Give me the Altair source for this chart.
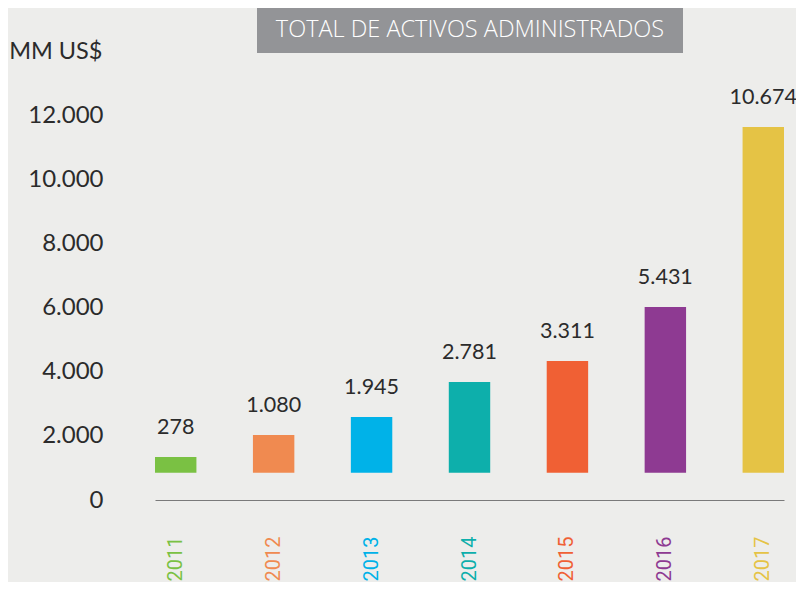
import altair as alt
import pandas as pd

# ---- data ----
anios = ["2011", "2012", "2013", "2014", "2015", "2016", "2017"]
valores = [278, 1080, 1945, 2781, 3311, 5431, 10674]
# bar extents as drawn in the picture, in axis units (MM US$)
barra_inicio = [850, 850, 850, 850, 850, 850, 850]
barra_fin = [1340, 2026, 2587, 3678, 4332, 6016, 11626]
colores = ["#7AC143", "#F08A50", "#00B2E8", "#0DAFAB", "#F06034", "#8E3A92", "#E5C345"]
ticks_y = [0, 2000, 4000, 6000, 8000, 10000, 12000]
titulo = "TOTAL DE ACTIVOS ADMINISTRADOS"
unidad = "MM US$"

df = pd.DataFrame({
    "anio": anios,
    "valor": valores,
    "inicio": barra_inicio,
    "fin": barra_fin,
    "etiqueta": [f"{v:,}".replace(",", ".") for v in valores],
})

NUM_FONT = "Lato"
label_color = {
    "condition": [{"test": f"datum.value === '{a}'", "value": c}
                  for a, c in zip(anios[:-1], colores[:-1])],
    "value": colores[-1],
}

x_enc = alt.X(
    "anio:N", sort=anios,
    scale=alt.Scale(paddingInner=0.577, paddingOuter=0),
    axis=alt.Axis(
        title=None, labelAngle=270, ticks=False, labelPadding=36,
        labelFontSize=20, labelFont="Roboto", labelFontWeight=400,
        labelColor=label_color, domainColor="#7a7a7a", domainWidth=1.2,
        grid=False,
    ),
)

y_scale = alt.Scale(domain=[0, 12000], nice=False)
y_axis = alt.Axis(
    values=ticks_y, grid=False, domain=False, ticks=False,
    labelPadding=52, labelFontSize=24, labelFont=NUM_FONT, labelColor="#2b2b2b",
    labelExpr="replace(format(datum.value, ','), ',', '.')",
    title=unidad, titleAngle=0, titleX=-53, titleY=-57, titleAlign="right",
    titleBaseline="alphabetic", titleFontSize=23.5, titleFont=NUM_FONT,
    titleFontWeight="normal", titleColor="#2b2b2b",
)

base = alt.Chart(df)

bars = base.mark_bar().encode(
    x=x_enc,
    y=alt.Y("inicio:Q", scale=y_scale, axis=y_axis),
    y2="fin:Q",
    color=alt.Color("anio:N", scale=alt.Scale(domain=anios, range=colores), legend=None),
)

labels = base.mark_text(dy=-29, fontSize=21.5, font=NUM_FONT, color="#2b2b2b", baseline="middle").encode(
    x=alt.X("anio:N", sort=anios),
    y=alt.Y("fin:Q"),
    text="etiqueta:N",
)

box = alt.Chart(alt.Data(values=[{}])).mark_rect(color="#939497").encode(
    x=alt.value(102), x2=alt.value(528), y=alt.value(-108), y2=alt.value(-62)
)
box_text = alt.Chart(alt.Data(values=[{}])).mark_text(
    text=titulo, color="white", fontSize=23.5, font="Open Sans", fontWeight=300,
    align="center", baseline="middle",
).encode(x=alt.value(315), y=alt.value(-85))

chart = alt.layer(bars, labels, box, box_text).properties(
    width=629, height=385,
    autosize=alt.AutoSizeParams(type="none"),
    padding={"left": 147, "top": 107, "right": 12, "bottom": 82},
    background="#EDEDEB",
).configure_view(stroke=None)

chart.save("out.html", embed_options={"renderer": "svg", "actions": False})
